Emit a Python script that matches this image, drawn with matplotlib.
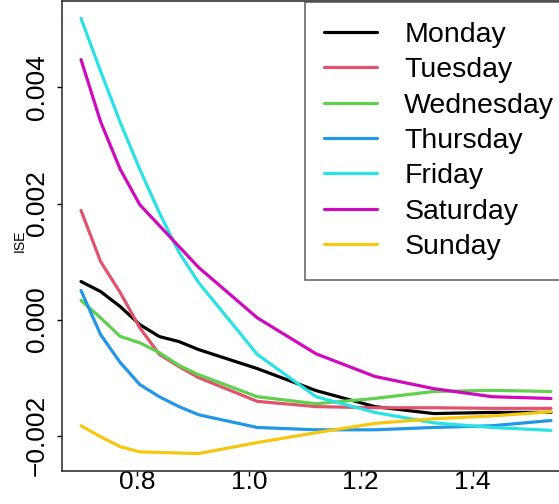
import matplotlib
matplotlib.use("Agg")
import matplotlib.pyplot as plt

plt.rcParams['font.family'] = ['Liberation Sans', 'DejaVu Sans']

# bandwidth grid
x = [0.700, 0.735, 0.770, 0.805, 0.840, 0.875, 0.910,
     1.015, 1.120, 1.225, 1.330, 1.435, 1.540]

# ISE values, in units of 0.001
monday    = [0.655, 0.483, 0.224, -0.086, -0.293, -0.379, -0.517, -0.845, -1.224, -1.50, -1.62, -1.60, -1.60]
tuesday   = [1.88, 1.00, 0.466, -0.14, -0.60, -0.81, -1.00, -1.41, -1.50, -1.52, -1.52, -1.53, -1.53]
wednesday = [0.33, 0.03, -0.29, -0.40, -0.57, -0.79, -0.95, -1.33, -1.45, -1.36, -1.24, -1.22, -1.24]
thursday  = [0.50, -0.26, -0.74, -1.12, -1.33, -1.50, -1.64, -1.86, -1.90, -1.90, -1.86, -1.83, -1.74]
friday    = [5.19, 4.28, 3.40, 2.59, 1.84, 1.16, 0.64, -0.60, -1.33, -1.60, -1.78, -1.86, -1.91]
saturday  = [4.48, 3.41, 2.59, 1.98, 1.62, 1.26, 0.90, 0.03, -0.59, -0.98, -1.19, -1.33, -1.36]
sunday    = [-1.83, -2.02, -2.19, -2.28, -2.29, -2.30, -2.31, -2.12, -1.95, -1.79, -1.71, -1.66, -1.59]

days = ["Monday", "Tuesday", "Wednesday", "Thursday", "Friday", "Saturday", "Sunday"]
series = [monday, tuesday, wednesday, thursday, friday, saturday, sunday]
colors = ["#000000", "#DF536B", "#61D04F", "#2297E6", "#28E2E5", "#CD0BBC", "#F5C710"]

xticks = [0.8, 1.0, 1.2, 1.4]
yticks = [-0.002, 0.000, 0.002, 0.004]
ytick_labels = ["\u22120.002", "0.000", "0.002", "0.004"]

W, H = 559, 504
fig = plt.figure(figsize=(W / 100, H / 100), dpi=100)
# plot region runs past the right edge (the original is cropped there)
ax = fig.add_axes([62 / W, 33 / H, (570 - 62) / W, (471 - 1) / H])

for name, vals, c in zip(days, series, colors):
    ax.plot(x, [v * 0.001 for v in vals], color=c, lw=2.3, label=name,
            solid_capstyle='round')

ax.set_xlim(0.666, 1.574)
ax.set_ylim(-0.00261, 0.00549)
ax.set_xticks(xticks)
ax.set_xticklabels(["%.1f" % t for t in xticks])
ax.set_yticks(yticks)
ax.set_yticklabels(ytick_labels, rotation=90, va='center')
ax.tick_params(direction='out', length=3.6, width=1, labelsize=19)
ax.tick_params(axis='x', pad=-4.5)
ax.tick_params(axis='y', pad=6)
for s in ax.spines.values():
    s.set_linewidth(1.2)
    s.set_color('#333333')

ax.set_ylabel("ISE", fontsize=10)
ax.yaxis.set_label_coords(-0.07, 0.49)

leg = ax.legend(loc='upper right', bbox_to_anchor=(1 + 5 / 508, 1),
                fontsize=20.5, frameon=True, fancybox=False,
                borderaxespad=0.05, handlelength=1.86, handletextpad=0.95,
                labelspacing=0.33, borderpad=0.68)
leg.get_frame().set_edgecolor('#444444')
leg.get_frame().set_linewidth(1.2)

fig.savefig("out.png", dpi=100)
